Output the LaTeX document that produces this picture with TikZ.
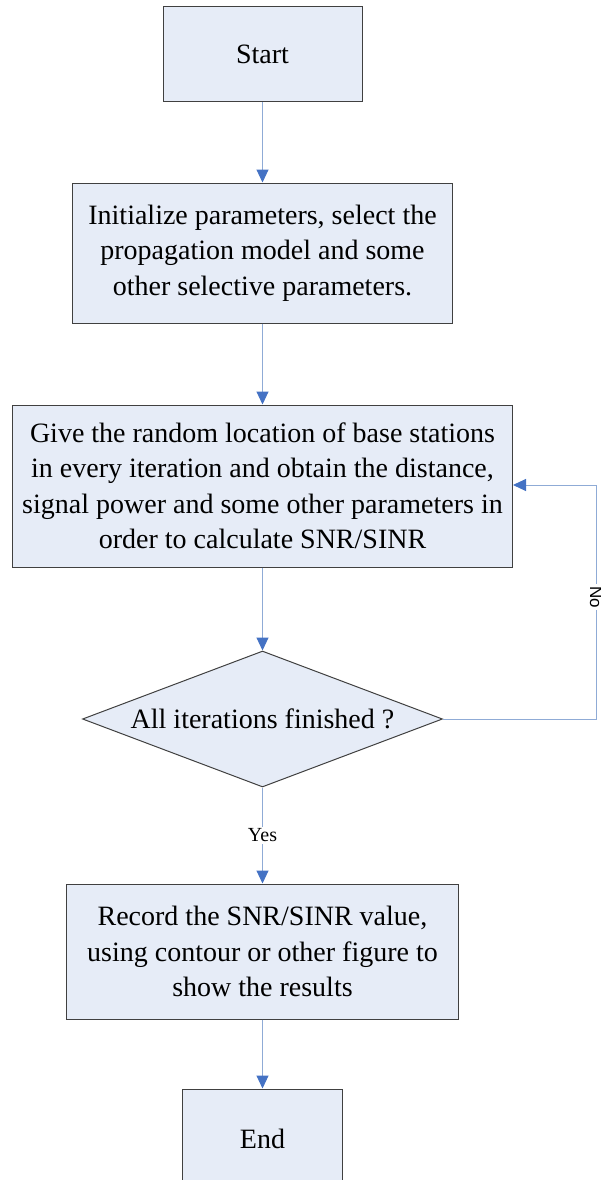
\documentclass[tikz,border=0pt]{standalone}
\usepackage{fontspec}
\setmainfont{Liberation Serif}
\newfontfamily\nosans{Liberation Sans}
\usepackage{tikz}
\usetikzlibrary{arrows.meta,positioning,shapes.geometric}

\definecolor{boxfill}{RGB}{230,236,247}
\definecolor{boxline}{RGB}{64,64,64}
\definecolor{flowline}{RGB}{143,171,214}
\definecolor{flowtip}{RGB}{68,114,196}

\begin{document}
\begin{tikzpicture}[
  x=1pt, y=-1pt,
  stepbox/.style={draw=boxline, fill=boxfill, line width=1pt, align=center, inner sep=0pt,
    font=\fontsize{28}{35.5}\selectfont},
  decision/.style={diamond, aspect=2.65, draw=boxline, fill=boxfill, line width=1pt, inner sep=0pt,
    minimum width=360pt, minimum height=136pt, font=\fontsize{28}{35}\selectfont},
  arr/.style={draw=flowline, line width=1pt, -{Triangle[length=13pt, width=12pt, color=flowtip]}},
  lab/.style={fill=white, inner sep=2pt, font=\fontsize{20}{22}\selectfont}
]

\useasboundingbox (0,0) rectangle (600,1180);

\node[stepbox, minimum width=199pt, minimum height=95pt] (start) at (262.5,54.5) {Start};
\node[stepbox, minimum width=380pt, minimum height=140pt, below=80pt of start] (init)
  {Initialize parameters, select the\\propagation model and some\\other selective parameters.};
\node[stepbox, minimum width=500pt, minimum height=162pt, below=81pt of init] (give)
  {Give the random location of base stations\\in every iteration and obtain the distance,\\signal power and some other parameters in\\order to calculate SNR/SINR};
\node[decision, below=83pt of give] (done) {All iterations finished ?};
\node[stepbox, minimum width=392pt, minimum height=135pt, below=96pt of done] (record)
  {Record the SNR/SINR value,\\using contour or other figure to\\show the results};
\node[stepbox, minimum width=160pt, minimum height=100pt, below=69pt of record] (finish) {End};

\coordinate (turn) at (596,485);

\draw[arr] (start) -- (init);
\draw[arr] (init) -- (give);
\draw[arr] (give) -- (done);
\draw[arr] (done) -- node[lab] {Yes} (record);
\draw[arr] (record) -- (finish);
\draw[arr] (done.east) -| node[lab, pos=0.76, rotate=-90, font=\nosans\fontsize{17}{19}\selectfont] {No} (turn) -- (turn -| give.east);

\end{tikzpicture}
\end{document}
